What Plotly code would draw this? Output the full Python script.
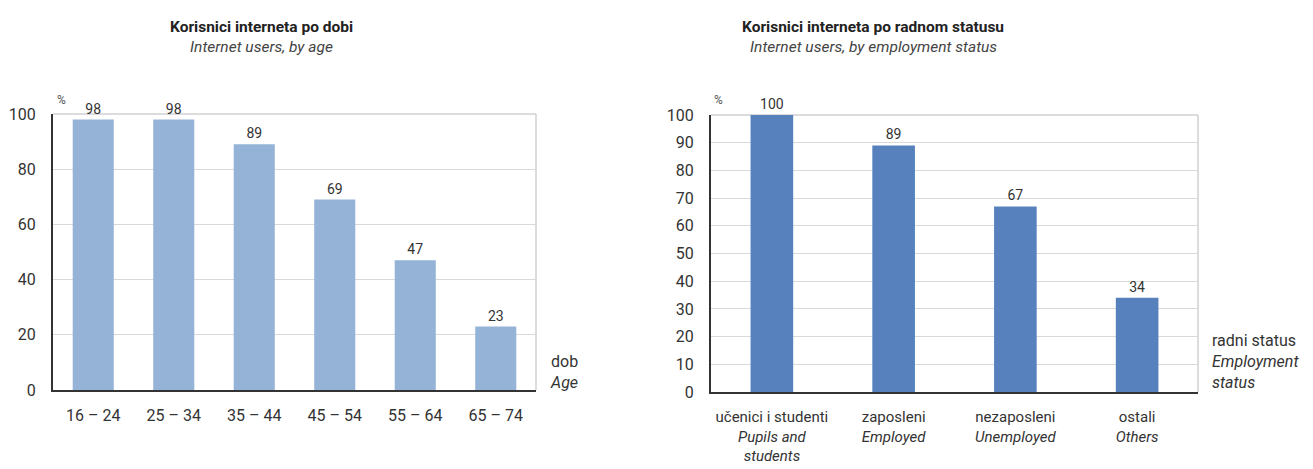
import plotly.graph_objects as go

# ---- data ----
age_groups = ["16 – 24", "25 – 34", "35 – 44", "45 – 54", "55 – 64", "65 – 74"]
age_values = [98, 98, 89, 69, 47, 23]

status_keys = ["ucenici", "zaposleni", "nezaposleni", "ostali"]
status_labels = [
    "učenici i studenti<br><i>Pupils and<br>students</i>",
    "zaposleni<br><i>Employed</i>",
    "nezaposleni<br><i>Unemployed</i>",
    "ostali<br><i>Others</i>",
]
status_values = [100, 89, 67, 34]

y_ticks_left = [0, 20, 40, 60, 80, 100]
y_ticks_right = [0, 10, 20, 30, 40, 50, 60, 70, 80, 90, 100]

FONT = "Roboto, Liberation Sans, Arial, sans-serif"
TXT = "#333333"
W, H = 1313, 469
OFF = 8  # page body margin in the browser

fig = go.Figure()
fig.add_trace(go.Bar(
    x=age_groups, y=age_values, xaxis="x", yaxis="y",
    marker=dict(color="#95b3d7", line=dict(width=0)),
    text=age_values, textposition="outside", cliponaxis=False,
    textfont=dict(family=FONT, size=14, color=TXT), width=0.51,
))
fig.add_trace(go.Bar(
    x=status_keys, y=status_values, xaxis="x2", yaxis="y2",
    marker=dict(color="#5681bd", line=dict(width=0)),
    text=status_values, textposition="outside", cliponaxis=False,
    textfont=dict(family=FONT, size=14, color=TXT), width=0.35,
))

def px_x(p):
    return (p - OFF) / W

def px_y(p):
    return 1 - (p - OFF) / H

common_x = dict(showgrid=False, showline=True, linecolor="#333333", linewidth=2,
                ticks="outside", ticklen=10, tickcolor="rgba(0,0,0,0)",
                tickfont=dict(family=FONT, size=16, color=TXT), fixedrange=True,
                automargin=False)
common_y = dict(range=[0, 100], showgrid=True, gridcolor="#d9d9d9", gridwidth=1,
                showline=True, linecolor="#333333", linewidth=2,
                ticks="outside", ticklen=12, tickcolor="rgba(0,0,0,0)",
                tickfont=dict(family=FONT, size=16, color=TXT), zeroline=False,
                fixedrange=True, automargin=False)

fig.update_layout(
    width=W, height=H, margin=dict(l=0, r=0, t=0, b=0, autoexpand=False),
    paper_bgcolor="white", plot_bgcolor="white", showlegend=False,
    font=dict(family=FONT, color=TXT),
    xaxis=dict(domain=[px_x(53), px_x(536)], anchor="y", **common_x),
    yaxis=dict(domain=[px_y(390), px_y(114)], anchor="x", tickvals=y_ticks_left, **common_y),
    xaxis2=dict(domain=[px_x(711), px_x(1198)], anchor="y2",
                tickvals=status_keys, ticktext=status_labels,
                **{**common_x, "tickfont": dict(family=FONT, size=15, color=TXT)}),
    yaxis2=dict(domain=[px_y(392), px_y(115)], anchor="x2", tickvals=y_ticks_right, **common_y),
)

# light gray top/right frame
for xr, yr in (("x domain", "y domain"), ("x2 domain", "y2 domain")):
    fig.add_shape(type="line", xref=xr, yref=yr, x0=0, x1=1, y0=1, y1=1,
                  line=dict(color="#d0d0d0", width=1.5), layer="below")
    fig.add_shape(type="line", xref=xr, yref=yr, x0=1, x1=1, y0=0, y1=1,
                  line=dict(color="#d0d0d0", width=1.5), layer="below")

def note(text, x, y, size, color=TXT, xanchor="center", align="center"):
    return dict(text=text, x=px_x(x), y=px_y(y), xref="paper", yref="paper",
                xanchor=xanchor, yanchor="middle", align=align, showarrow=False,
                font=dict(family=FONT, size=size, color=color))

ann = [
    note("<b>Korisnici interneta po dobi</b>", 262, 27, 15.5, "#222222"),
    note("<i>Internet users, by age</i>", 262, 47, 15.5, "#444444"),
    note("<b>Korisnici interneta po radnom statusu</b>", 873, 27, 15.5, "#222222"),
    note("<i>Internet users, by employment status</i>", 873, 47, 15.5, "#444444"),
    note("%", 61, 100, 12, "#555555"),
    note("%", 719, 100, 12, "#555555"),
    note("dob<br><i>Age</i>", 548, 372, 16, xanchor="left", align="left"),
    note("radni status<br><i>Employment<br>status</i>", 1210, 361, 16, xanchor="left", align="left"),
]
fig.update_layout(annotations=ann)

fig.write_html("out.html")
